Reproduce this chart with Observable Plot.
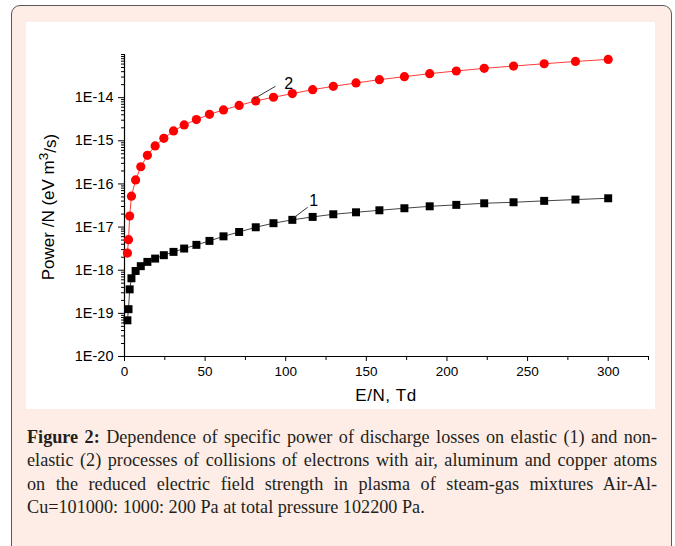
<!DOCTYPE html>
<html><head><meta charset="utf-8">
<script src="https://cdn.jsdelivr.net/npm/d3@7"></script>
<script src="https://cdn.jsdelivr.net/npm/@observablehq/plot@0.6"></script>
<style>
html,body{margin:0;padding:0;background:#fff;}
body{width:675px;height:546px;position:relative;overflow:hidden;}
#frame{position:absolute;left:11px;top:5px;width:661px;height:570px;border:1.5px solid #5a5a5a;border-radius:9px;background:#fdede6;box-sizing:border-box;}
#panel{position:absolute;left:26px;top:22px;width:629px;height:387px;background:#fff;}
#panel svg{display:block;}
#caption{position:absolute;left:27px;top:426px;width:630px;font-family:"Liberation Serif","DejaVu Serif",serif;font-size:18.2px;line-height:23.4px;color:#231f20;}
#caption .j{text-align:justify;text-align-last:justify;}
</style></head>
<body>
<div id="frame"></div>
<div id="panel"></div>
<div id="caption">
<div class="j"><b>Figure 2:</b> Dependence of specific power of discharge losses on elastic (1) and non-</div>
<div class="j">elastic (2) processes of collisions of electrons with air, aluminum and copper atoms</div>
<div class="j">on the reduced electric field strength in plasma of steam-gas mixtures Air-Al-</div>
<div>Cu=101000: 1000: 200 Pa at total pressure 102200 Pa.</div>
</div>
<script>
// E/N, Td
const fieldTd = [1.8, 2.5, 3.2, 4.3, 6.9, 10.1, 14.2, 19, 24.4, 30.4, 37, 44.6, 52.7, 61.4, 71.1, 81.4, 92.4, 104.1, 116.7, 129.5, 143.6, 158.1, 173.6, 189.3, 205.8, 223.1, 241.3, 260.3, 279.7, 300];
// curve 1: elastic losses
const elastic = [6.9e-20, 1.25e-19, 3.6e-19, 6.5e-19, 9.6e-19, 1.24e-18, 1.56e-18, 1.86e-18, 2.23e-18, 2.66e-18, 3.18e-18, 3.87e-18, 4.78e-18, 6.1e-18, 7.7e-18, 9.9e-18, 1.23e-17, 1.47e-17, 1.72e-17, 1.98e-17, 2.2e-17, 2.45e-17, 2.73e-17, 3.03e-17, 3.27e-17, 3.56e-17, 3.76e-17, 4.05e-17, 4.34e-17, 4.65e-17];
// curve 2: non-elastic losses
const nonElastic = [2.5e-18, 5.1e-18, 1.8e-17, 5.2e-17, 1.24e-16, 2.5e-16, 4.6e-16, 7.6e-16, 1.14e-15, 1.69e-15, 2.33e-15, 3.1e-15, 4.1e-15, 5.2e-15, 6.6e-15, 8.4e-15, 1.02e-14, 1.24e-14, 1.53e-14, 1.83e-14, 2.19e-14, 2.61e-14, 3.06e-14, 3.6e-14, 4.15e-14, 4.77e-14, 5.4e-14, 6.1e-14, 6.9e-14, 7.7e-14];

const xTicks = [0, 50, 100, 150, 200, 250, 300];
const xTickLabels = ["0", "50", "100", "150", "200", "250", "300"];
const xMinorTicks = [25, 75, 125, 175, 225, 275, 325];
const yTicks = [1e-20, 1e-19, 1e-18, 1e-17, 1e-16, 1e-15, 1e-14];
const yTickLabels = ["1E-20", "1E-19", "1E-18", "1E-17", "1E-16", "1E-15", "1E-14"];
const yMinorTicks = [];
for (const t of yTicks) for (let k = 2; k <= 9; k++) yMinorTicks.push(k * t);
yMinorTicks.push(1e-13);

// curve labels and leader lines
const curveLabels = ["1", "2"];
const curveLabelX = [117.3, 101.8];
const curveLabelY = [4.1e-17, 2.14e-14];
const leaderX1 = [104.6, 80.1];
const leaderY1 = [1.6e-17, 9.3e-15];
const leaderX2 = [113.6, 93.6];
const leaderY2 = [2.88e-17, 1.83e-14];

const rows = fieldTd.map((v, i) => ({x: v, e: elastic[i], n: nonElastic[i]}));
const ann = curveLabels.map((t, i) => ({t, x: curveLabelX[i], y: curveLabelY[i], x1: leaderX1[i], y1: leaderY1[i], x2: leaderX2[i], y2: leaderY2[i]}));

const chart = Plot.plot({
  width: 629, height: 387,
  marginLeft: 98, marginRight: 7, marginTop: 32, marginBottom: 53,
  x: {domain: [0, 325]},
  y: {type: "log", domain: [1e-20, 1e-13]},
  style: {fontFamily: "Liberation Sans, Arial, sans-serif", fontSize: "13px", background: "white", color: "#000"},
  marks: [
    Plot.axisX(xMinorTicks, {tickSize: 4, tickFormat: () => "", label: null}),
    Plot.axisX(xTicks, {tickSize: 5, tickPadding: 5, tickFormat: d => xTickLabels[xTicks.indexOf(d)], label: null, fontSize: 13.5}),
    Plot.axisY(yMinorTicks, {tickSize: 3, tickFormat: () => "", label: null}),
    Plot.axisY(yTicks, {tickSize: 6, tickPadding: 5, tickFormat: d => yTickLabels[yTicks.indexOf(d)], label: null, fontSize: 14.5}),
    Plot.ruleY([1e-20], {stroke: "#000", strokeWidth: 1.2}),
    Plot.ruleX([0], {stroke: "#000", strokeWidth: 1.2}),
    Plot.line(rows, {x: "x", y: "n", stroke: "#ff3b3b", strokeWidth: 1}),
    Plot.line(rows, {x: "x", y: "e", stroke: "#444", strokeWidth: 1}),
    Plot.dot(rows, {x: "x", y: "n", r: 4.6, fill: "#ff0000", stroke: "none"}),
    Plot.dot(rows, {x: "x", y: "e", r: 4.5, symbol: "square", fill: "#000", stroke: "none"}),
    Plot.link(ann, {x1: "x1", y1: "y1", x2: "x2", y2: "y2", stroke: "#333", strokeWidth: 1}),
    Plot.text(ann, {x: "x", y: "y", text: "t", fontSize: 16, fill: "#000", textAnchor: "middle", lineAnchor: "middle"})
  ]
});
document.getElementById("panel").appendChild(chart);

const svg = d3.select(chart);
svg.append("text")
  .attr("x", 360).attr("y", 379)
  .attr("text-anchor", "middle")
  .attr("font-family", "Liberation Sans, Arial, sans-serif")
  .attr("font-size", 17).attr("letter-spacing", 0.6).attr("fill", "#000")
  .text("E/N, Td");
const yl = svg.append("text")
  .attr("transform", "translate(28,185) rotate(-90)")
  .attr("text-anchor", "middle")
  .attr("font-family", "Liberation Sans, Arial, sans-serif")
  .attr("font-size", 17).attr("fill", "#000");
yl.append("tspan").text("Power /N (eV m");
yl.append("tspan").attr("dy", "-0.45em").attr("font-size", "0.8em").text("3");
yl.append("tspan").attr("dy", "0.45em").text("/s)");
</script>
</body></html>
